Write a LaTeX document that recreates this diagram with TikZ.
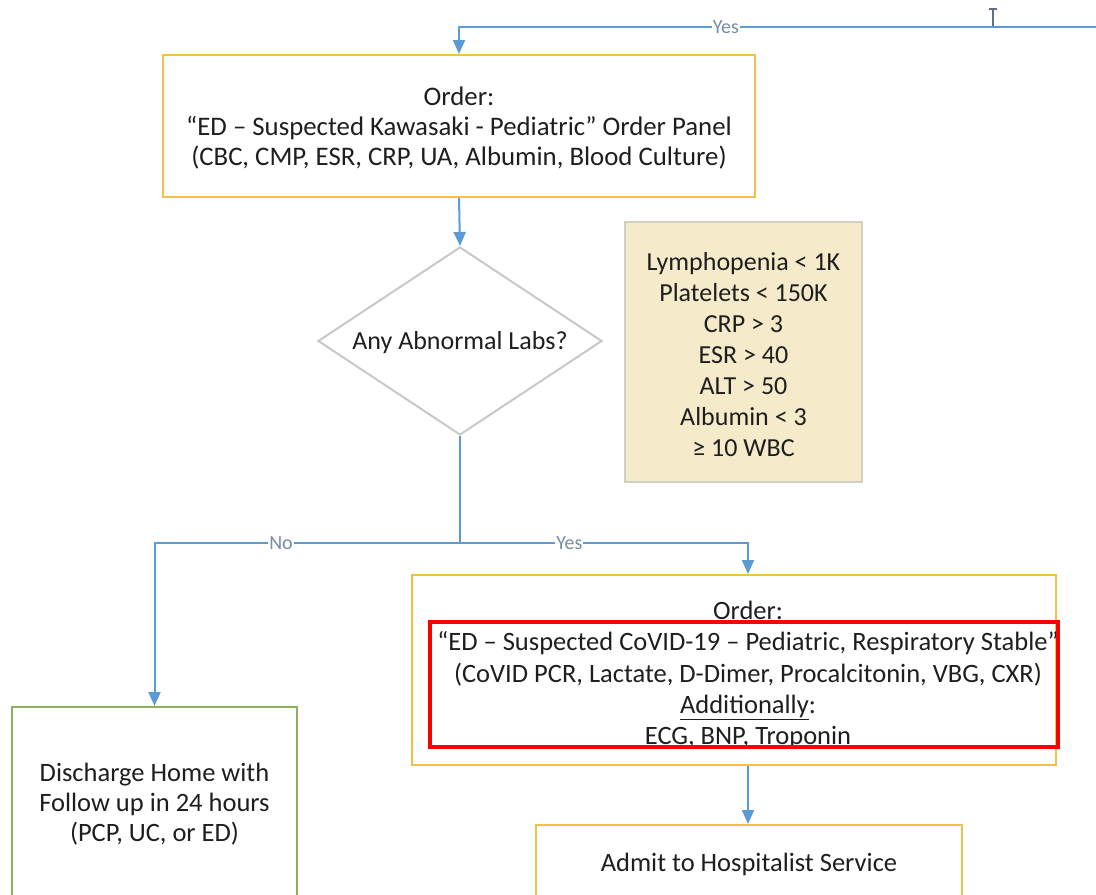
\documentclass[tikz,border=0pt]{standalone}
\usepackage{fontspec}
\setmainfont{Carlito}
\usetikzlibrary{shapes.geometric,arrows.meta}
\definecolor{conncol}{RGB}{91,155,213}
\definecolor{orangeb}{RGB}{245,192,72}
\definecolor{greenb}{RGB}{140,178,95}
\definecolor{greyb}{RGB}{200,200,200}
\definecolor{tanfill}{RGB}{245,234,202}
\definecolor{tanb}{RGB}{212,207,196}
\definecolor{txt}{RGB}{30,30,30}
\definecolor{lblcol}{RGB}{120,140,165}
\begin{document}
\begin{tikzpicture}[x=1pt,y=-1pt,
  every node/.style={text=txt,font=\fontsize{26.5}{30}\selectfont},
  obox/.style={draw=orangeb,line width=2pt,align=center,inner sep=0pt},
  gbox/.style={draw=greenb,line width=2pt,align=center,inner sep=0pt},
  tbox/.style={draw=tanb,fill=tanfill,line width=1.5pt,align=center,inner sep=0pt,font=\fontsize{26}{31}\selectfont},
  decision/.style={diamond,draw=greyb,line width=2pt,aspect=1.51,inner sep=0pt,minimum width=284pt,minimum height=188pt,font=\fontsize{26}{30}\selectfont},
  conn/.style={draw=conncol,line width=2pt},
  arr/.style={conn,-{Triangle[width=12pt,length=14pt]}},
  lbl/.style={text=lblcol,fill=white,inner sep=1pt,font=\fontsize{20}{20}\selectfont},
  hilite/.style={draw=red,line width=4pt,inner sep=0pt}
]
\useasboundingbox (0,0) rectangle (1096,895);
\clip (0,0) rectangle (1096,895);

\node[obox,minimum width=592pt,minimum height=142pt,font=\fontsize{26.8}{30}\selectfont] (order1) at (459,126) {};
\node[align=center,font=\fontsize{26.8}{30}\selectfont] (order1txt) at (459,128.5)
  {Order:\\“ED – Suspected Kawasaki - Pediatric” Order Panel\\(CBC, CMP, ESR, CRP, UA, Albumin, Blood Culture)};

\node[decision] (labs) at (460,341) {};
\node[font=\fontsize{26}{30}\selectfont] (labstxt) at (460,343) {Any Abnormal Labs?};

\node[tbox,minimum width=237pt,minimum height=260pt] (crit) at (743.5,352) {};
\node[align=center,font=\fontsize{26}{31}\selectfont] (crittxt) at (743.5,354.5)
  {Lymphopenia < 1K\\Platelets < 150K\\CRP > 3\\ESR > 40\\ALT > 50\\Albumin < 3\\≥ 10 WBC};

\node[obox,minimum width=644pt,minimum height=190pt] (order2) at (734,670) {};
\node[align=center,font=\fontsize{26.5}{31.2}\selectfont] (order2txt) at (748,675)
  {Order:\\“ED – Suspected CoVID-19 – Pediatric, Respiratory Stable”\\(CoVID PCR, Lactate, D-Dimer, Procalcitonin, VBG, CXR)\\\underline{Additionally}:\\ECG, BNP, Troponin};

\node[hilite,minimum width=628pt,minimum height=125pt] (hl) at (744,684.5) {};

\node[gbox,minimum width=285pt,minimum height=194pt] (disch) at (154.5,804) {};
\node[align=center] (dischtxt) at (154.5,804)
  {Discharge Home with\\Follow up in 24 hours\\(PCP, UC, or ED)};

\node[obox,minimum width=426pt,minimum height=74pt] (admit) at (749,862) {};
\node (admittxt) at (749,864) {Admit to Hospitalist Service};

% top incoming connector
\coordinate (rightend) at (1110,27);
\coordinate (tick) at (993,9);
\draw[conn,draw=lblcol!80!black] (tick) -- (tick |- rightend);
\draw[conn,draw=lblcol!80!black,line width=1.5pt] ([xshift=-4pt]tick) -- ([xshift=4pt]tick);
\draw[arr] (rightend) -- node[lbl,pos=0.59]{Yes} (order1.north |- rightend) -- (order1.north);

\draw[arr] (order1.south) -- (labs.north);

\coordinate (split) at (460,543);
\draw[conn] (labs.south) -- (split);
\draw[arr] (split) -| node[lbl,pos=0.293]{No} (disch.north);
\draw[arr] (split) -| node[lbl,pos=0.19]{Yes} ([xshift=14pt]order2.north);

\draw[arr] ([xshift=14pt]order2.south) -- ([xshift=14pt]order2.south |- admit.north);
\end{tikzpicture}
\end{document}
